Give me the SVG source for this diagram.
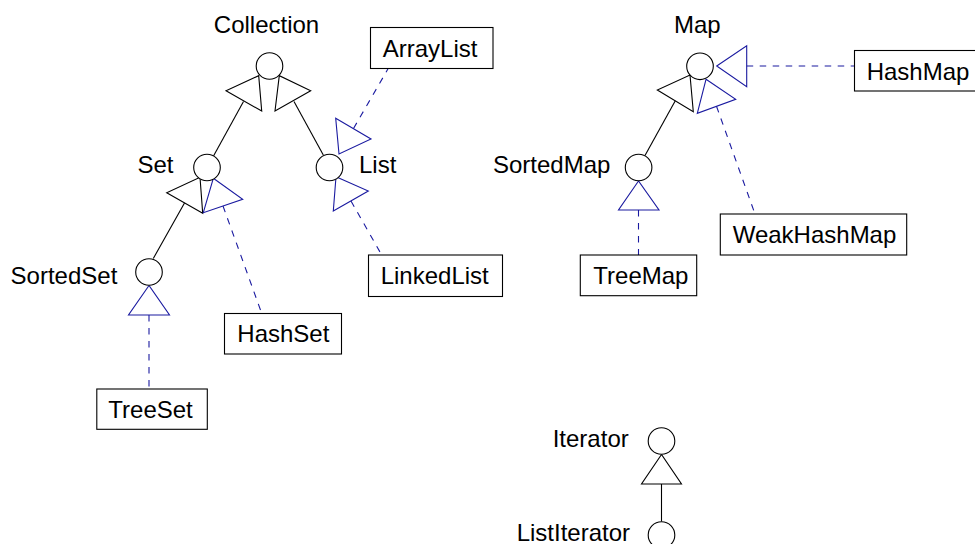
<svg xmlns="http://www.w3.org/2000/svg" width="975" height="544" viewBox="0 0 975 544">
<style>
text{font-family:"Liberation Sans",Arial,sans-serif;font-size:24px;fill:#000}
.iface{fill:#fff;stroke:#000;stroke-width:1.1}
.box{fill:#fff;stroke:#000;stroke-width:1.1}
.gen{fill:none;stroke:#000;stroke-width:1.1;stroke-linejoin:miter}
.real{fill:none;stroke:#1a1aa0;stroke-width:1.1}
.dash{fill:none;stroke:#1a1aa0;stroke-width:1.1;stroke-dasharray:6.5 6.5}
.line{fill:none;stroke:#000;stroke-width:1.1}
</style>
<rect width="975" height="544" fill="#fff"/>
<g id="connectors">
<!-- Collection -> Set / List -->
<polygon class="gen" points="226,90.7 261.7,111 258.7,75.7"/>
<polygon class="gen" points="310.7,90.7 275,111 279.3,75.7"/>
<line class="line" x1="243.5" y1="101.5" x2="213.5" y2="156"/>
<line class="line" x1="294" y1="101.5" x2="323.3" y2="155"/>
<!-- Set -> SortedSet / HashSet -->
<polygon class="gen" points="166.7,192.7 202.7,213.3 200,177.3"/>
<polygon class="real" points="213.3,178.3 242.7,199.3 203.3,212.7"/>
<line class="line" x1="184.5" y1="203" x2="153.3" y2="258.5"/>
<line class="dash" x1="223" y1="206" x2="261.7" y2="313.3"/>
<!-- List -> ArrayList / LinkedList -->
<polygon class="real" points="335.7,118.3 371,139 339,154"/>
<line class="dash" x1="353.5" y1="128.5" x2="388.3" y2="68.3"/>
<polygon class="real" points="336,176.7 368.3,191 333.3,211"/>
<line class="dash" x1="351" y1="201" x2="381.7" y2="255"/>
<!-- SortedSet -> TreeSet -->
<polygon class="real" points="149,285.5 128.5,315 169.5,315"/>
<line class="dash" x1="149" y1="315" x2="149" y2="389"/>
<!-- Map -> SortedMap / WeakHashMap / HashMap -->
<polygon class="gen" points="657.3,90 693.3,111.7 690,75"/>
<line class="line" x1="675.3" y1="100.8" x2="645" y2="155.5"/>
<polygon class="real" points="706,79.3 735.7,99.3 697.3,113.3"/>
<line class="dash" x1="716.5" y1="106.3" x2="755" y2="214"/>
<polygon class="real" points="716.7,66 746.7,45.7 746.7,86.7"/>
<line class="dash" x1="746.7" y1="66" x2="854" y2="66"/>
<!-- SortedMap -> TreeMap -->
<polygon class="real" points="638.5,181 618.5,210 659,210"/>
<line class="dash" x1="638.5" y1="210" x2="638.5" y2="255"/>
<!-- Iterator -> ListIterator -->
<polygon class="gen" points="661.5,454.5 641.5,484 681.5,484"/>
<line class="line" x1="661.5" y1="484" x2="661.5" y2="521.5"/>
</g>
<g id="Collection"><circle class="iface" cx="269.5" cy="66" r="13.3"/><text x="266.5" y="33" text-anchor="middle">Collection</text></g>
<g id="Set"><circle class="iface" cx="207" cy="167.5" r="13.3"/><text x="173.5" y="173" text-anchor="end">Set</text></g>
<g id="List"><circle class="iface" cx="329.5" cy="167.5" r="13.3"/><text x="359" y="173">List</text></g>
<g id="SortedSet"><circle class="iface" cx="149" cy="272" r="13.3"/><text x="117.3" y="284" text-anchor="end">SortedSet</text></g>
<g id="Map"><circle class="iface" cx="700" cy="66.3" r="13.3"/><text x="674" y="33.3">Map</text></g>
<g id="SortedMap"><circle class="iface" cx="638.6" cy="167.5" r="13.3"/><text x="493" y="173.3">SortedMap</text></g>
<g id="Iterator"><circle class="iface" cx="661.5" cy="441" r="13.3"/><text x="552.7" y="446.7">Iterator</text></g>
<g id="ListIterator"><circle class="iface" cx="661.5" cy="535" r="13.3"/><text x="516.7" y="540.5">ListIterator</text></g>
<g id="ArrayList"><rect class="box" x="370.5" y="27.5" width="122.5" height="41"/><text x="382.7" y="57.3">ArrayList</text></g>
<g id="HashMap"><rect class="box" x="854.5" y="50.5" width="128" height="40.5"/><text x="866.7" y="80.3">HashMap</text></g>
<g id="HashSet"><rect class="box" x="224.5" y="313.5" width="117" height="40.5"/><text x="237.3" y="342.3">HashSet</text></g>
<g id="TreeSet"><rect class="box" x="96.8" y="389" width="110.5" height="40.3"/><text x="108.3" y="418.3">TreeSet</text></g>
<g id="LinkedList"><rect class="box" x="368.5" y="255" width="134" height="41.5"/><text x="380.7" y="284.3">LinkedList</text></g>
<g id="TreeMap"><rect class="box" x="580.3" y="255" width="116.4" height="40.7"/><text x="593.3" y="284.3">TreeMap</text></g>
<g id="WeakHashMap"><rect class="box" x="720.3" y="214" width="186.4" height="41"/><text x="732.7" y="243.3">WeakHashMap</text></g>
</svg>
